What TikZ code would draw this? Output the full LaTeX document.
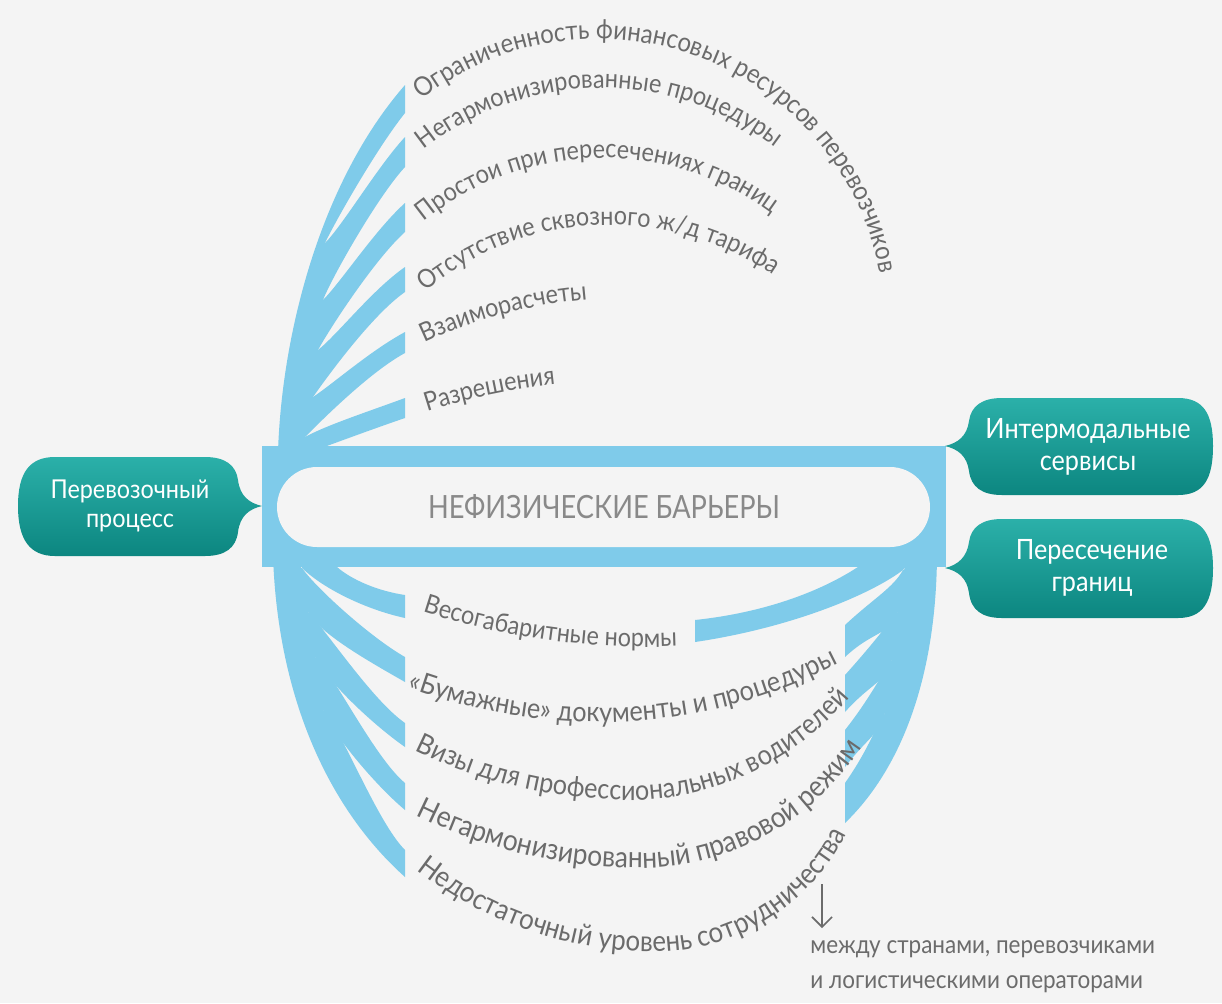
\documentclass[tikz,border=0pt]{standalone}
\usepackage{fontspec}
\setmainfont{Lato}[FakeStretch=0.9]
\newfontfamily\titlefont{Lato}[FakeStretch=0.85]
\usetikzlibrary{decorations.text,arrows.meta}
\definecolor{bg}{HTML}{F4F4F4}
\definecolor{barblue}{HTML}{7FCBEA}
\definecolor{tealA}{HTML}{2BB0A9}
\definecolor{tealB}{HTML}{0C8680}
\definecolor{txt}{HTML}{6B6B6B}
\begin{document}
\begin{tikzpicture}[x=0.5pt,y=0.5pt,
  band/.style={fill=barblue, draw=none},
  lbl/.style 2 args={decorate, decoration={text along path, text color=txt,
     text={|\fontsize{#1}{#1}\selectfont|#2}}},
  boxtext/.style={text=white, align=center, font=\fontsize{13}{14.5}\selectfont},
  bubble/.style={top color=tealA, bottom color=tealB, draw=none}]
\useasboundingbox (0,0) rectangle (1222,-1003);
\fill[bg] (0,0) rectangle (1222,-1003);

% ---- top-left fan
\path[band] (278,-452) .. controls (282,-330) and (322,-180) .. (405,-85) -- (405,-113)
  .. controls (377,-148) and (336,-220) .. (325,-243) -- (322,-300) -- (317,-350) -- (312,-397)
  -- (304,-437) -- (300,-452) -- cycle;
\path[band] (325,-243) .. controls (343,-225) and (378,-166) .. (405,-137) -- (405,-167)
  .. controls (378,-196) and (332,-277) .. (323,-300) -- (319,-300) -- (321,-243) -- cycle;
\path[band] (323,-300) .. controls (341,-282) and (375,-230) .. (405,-203) -- (405,-232)
  .. controls (375,-259) and (330,-328) .. (318,-350) -- (314,-350) -- (319,-300) -- cycle;
\path[band] (318,-350) .. controls (338,-334) and (372,-290) .. (405,-267) -- (405,-292)
  .. controls (372,-315) and (327,-377) .. (313,-397) -- (309,-397) -- (314,-350) -- cycle;
\path[band] (313,-397) .. controls (334,-383) and (370,-351) .. (405,-332) -- (405,-353)
  .. controls (370,-372) and (323,-419) .. (305,-437) -- (301,-437) -- (309,-397) -- cycle;
\path[band] (305,-437) .. controls (327,-425) and (367,-412) .. (405,-398) -- (405,-418)
  .. controls (367,-431) and (330,-445) .. (302,-455) -- (298,-455) -- (301,-437) -- cycle;

% ---- bottom-left fan
\path[band] (273,-556) .. controls (278,-700) and (330,-810) .. (405,-877) -- (405,-850)
  .. controls (377,-822) and (341,-728) .. (323,-710) -- (314,-657) -- (307,-612) -- (301,-568)
  -- (300,-556) -- cycle;
\path[band] (315,-657) .. controls (334,-674) and (374,-757) .. (405,-783) -- (405,-810)
  .. controls (374,-784) and (332,-733) .. (323,-710) -- (319,-710) -- (311,-657) -- cycle;
\path[band] (308,-612) .. controls (326,-630) and (372,-700) .. (405,-723) -- (405,-747)
  .. controls (372,-724) and (326,-680) .. (315,-657) -- (311,-657) -- (304,-612) -- cycle;
\path[band] (302,-568) .. controls (316,-588) and (370,-637) .. (405,-657) -- (405,-682)
  .. controls (370,-662) and (320,-634) .. (308,-612) -- (304,-612) -- (298,-568) -- cycle;
\path[band] (337,-567) .. controls (352,-580) and (378,-591) .. (405,-595) -- (405,-618)
  .. controls (368,-610) and (325,-590) .. (302,-568) -- (300,-560) -- (337,-560) -- cycle;

% ---- bottom-right fan
\path[band] (937,-556) .. controls (936,-680) and (900,-770) .. (845,-823) -- (845,-783)
  .. controls (868,-750) and (872,-734) .. (885,-713) -- (893,-660) -- (899,-612) -- (904,-570)
  -- (910,-556) -- cycle;
\path[band] (892,-660) .. controls (878,-680) and (870,-698) .. (845,-730) -- (845,-767)
  .. controls (870,-735) and (877,-737) .. (885,-713) -- (889,-713) -- (896,-660) -- cycle;
\path[band] (898,-612) .. controls (882,-631) and (872,-645) .. (845,-675) -- (845,-712)
  .. controls (872,-682) and (884,-684) .. (892,-660) -- (896,-660) -- (902,-612) -- cycle;
\path[band] (903,-570) .. controls (893,-588) and (874,-598) .. (845,-625) -- (845,-657)
  .. controls (874,-630) and (889,-636) .. (898,-612) -- (902,-612) -- (907,-570) -- cycle;
\path[band] (695,-620) .. controls (770,-612) and (830,-588) .. (868,-560) -- (915,-556) -- (903,-570)
  .. controls (870,-595) and (790,-628) .. (695,-642) -- cycle;

% ---- frame
\fill[barblue] (262,-446) rectangle (946,-567);
\fill[bg, rounded corners=20pt] (277,-467) rectangle (930,-547);
\node[text=txt!80, font=\titlefont\fontsize{16}{18}\selectfont] (title) at (604,-507) {НЕФИЗИЧЕСКИЕ БАРЬЕРЫ};

% ---- bubbles
\shade[bubble] (55,-457) -- (205,-457) .. controls (225,-457) and (236,-465) .. (238,-480)
  .. controls (240,-496) and (249,-503) .. (262,-506)
  .. controls (249,-509) and (240,-516) .. (238,-532)
  .. controls (236,-548) and (225,-556) .. (205,-556) -- (55,-556)
  .. controls (30,-556) and (18,-540) .. (18,-506)
  .. controls (18,-472) and (30,-457) .. (55,-457) -- cycle;
\node[boxtext] (proc) at (130,-506) {Перевозочный\\процесс};

\shade[bubble] (1178,-398) -- (1002,-398) .. controls (982,-398) and (971,-406) .. (969,-421)
  .. controls (967,-436) and (958,-443) .. (945,-446)
  .. controls (958,-449) and (967,-456) .. (969,-471)
  .. controls (971,-487) and (982,-495) .. (1002,-495) -- (1178,-495)
  .. controls (1203,-495) and (1213,-480) .. (1213,-446)
  .. controls (1213,-413) and (1203,-398) .. (1178,-398) -- cycle;
\node[boxtext, font=\fontsize{14}{16}\selectfont] (inter) at (1088,-447) {Интермодальные\\сервисы};

\shade[bubble] (1178,-519) -- (1002,-519) .. controls (982,-519) and (971,-527) .. (969,-542)
  .. controls (967,-557) and (958,-565) .. (945,-568)
  .. controls (958,-571) and (967,-578) .. (969,-593)
  .. controls (971,-610) and (982,-618) .. (1002,-618) -- (1178,-618)
  .. controls (1203,-618) and (1213,-602) .. (1213,-568)
  .. controls (1213,-535) and (1203,-519) .. (1178,-519) -- cycle;
\node[boxtext, font=\fontsize{14}{16}\selectfont] (cross) at (1092,-568) {Пересечение\\границ};

% ---- top labels (clockwise arcs)
\path[lbl={13.3}{Ограниченность финансовых ресурсов перевозчиков}, shift={(598,-326)}]
  (128:287) arc[start angle=128, end angle=-5, radius=287];
\path[lbl={13}{Негармонизированные процедуры}, shift={(601,-373)}]
  (128.4:285) arc[start angle=128.4, end angle=35, radius=285];
\path[lbl={13}{Простои при пересечениях границ}, shift={(603,-443)}]
  (129:285) arc[start angle=129, end angle=35, radius=285];
\path[lbl={13}{Отсутствие сквозного ж/д тарифа}, shift={(610,-515)}]
  (129.6:290) arc[start angle=129.6, end angle=40, radius=290];
\path[lbl={13}{Взаиморасчеты}, shift={(627,-777)}]
  (115:479) arc[start angle=115, end angle=85, radius=479];
\path[lbl={13}{Разрешения}, shift={(621,-1008)}]
  (108:627) arc[start angle=108, end angle=88, radius=627];

% ---- bottom labels (counter-clockwise arcs)
\path[lbl={13}{Весогабаритные нормы}, shift={(646,76)}]
  (252:723) arc[start angle=252, end angle=290, radius=723];
\path[lbl={14}{«Бумажные» документы и процедуры}]
  (408,-688) arc[start angle=249.9, end angle=270, radius=559] arc[start angle=270, end angle=308, radius=517];
\path[lbl={14}{Визы для профессиональных водителей}]
  (415,-750) arc[start angle=243.8, end angle=270, radius=487] arc[start angle=270, end angle=332, radius=286];
\path[lbl={14.7}{Негармонизированный правовой режим}]
  (416,-815) arc[start angle=243.4, end angle=270, radius=500] arc[start angle=270, end angle=338, radius=265];
\path[lbl={14.4}{Недостаточный уровень сотрудничества}]
  (417,-870) arc[start angle=232, end angle=270, radius=386] arc[start angle=270, end angle=350, radius=215];

% ---- note
\node[anchor=north west, align=left, text=txt, font=\fontsize{12.5}{17.5}\selectfont, inner sep=0pt] (note) at (810,-940)
  {между странами, перевозчиками\\и логистическими операторами};
\coordinate (arrtop) at (822,-884);
\coordinate (arrbot) at (822,-928);
\draw[txt, line width=0.8pt, -{Straight Barb[length=5pt,width=10pt]}] (arrtop) -- (arrbot);
\end{tikzpicture}
\end{document}
